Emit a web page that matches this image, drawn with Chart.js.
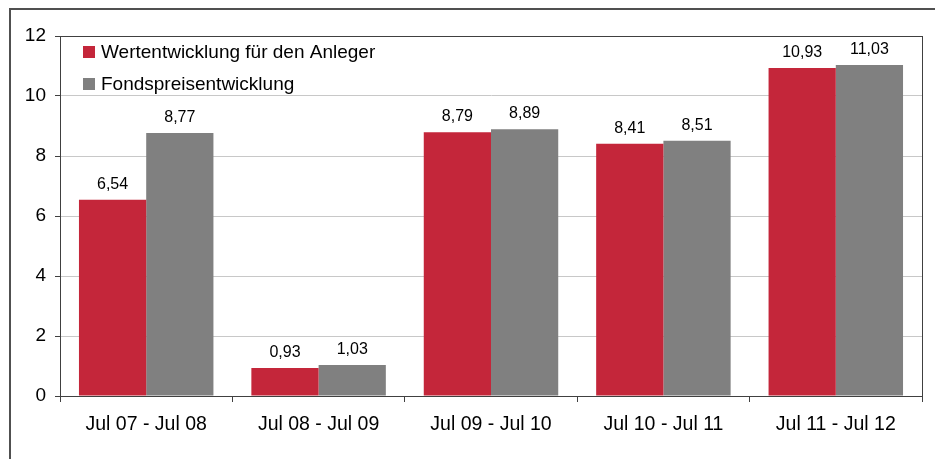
<!DOCTYPE html>
<html>
<head>
<meta charset="utf-8">
<script src="https://cdn.jsdelivr.net/npm/chart.js@4/dist/chart.umd.min.js"></script>
<style>
    html, body { margin: 0; padding: 0; background: #fff; }
    #wrap { width: 935px; height: 459px; position: relative; }
</style>
</head>
<body>
<div id="wrap"><canvas id="perfChart"></canvas></div>
<script>
// Data
const periods = ["Jul 07 - Jul 08", "Jul 08 - Jul 09", "Jul 09 - Jul 10", "Jul 10 - Jul 11", "Jul 11 - Jul 12"];
const investorReturn = [6.54, 0.93, 8.79, 8.41, 10.93];
const fundPriceReturn = [8.77, 1.03, 8.89, 8.51, 11.03];
const yTicks = [0, 2, 4, 6, 8, 10, 12];

const RED = "#c4263a";
const GREY = "#808080";
const FONT = "'Liberation Sans', Arial, sans-serif";

const fmt = v => v.toFixed(2).replace(".", ",");

// Frame, plot box, value labels and in-plot legend
const decorations = {
    id: "decorations",
    afterDatasetsDraw(chart) {
        const c = chart.ctx;
        const a = chart.chartArea;

        // outer frame (only left + top visible in the picture)
        c.save();
        c.strokeStyle = "#505050";
        c.lineWidth = 2;
        c.beginPath();
        c.moveTo(10, 459);
        c.lineTo(10, 9);
        c.lineTo(935, 9);
        c.stroke();

        // plot box
        c.lineWidth = 1;
        c.strokeStyle = "#404040";
        c.strokeRect(Math.round(a.left) + 0.5, Math.round(a.top) + 0.5,
            Math.round(a.right - a.left), Math.round(a.bottom - a.top));

        // value labels above bars
        c.fillStyle = "#000";
        c.font = "16px " + FONT;
        c.textAlign = "center";
        c.textBaseline = "alphabetic";
        chart.data.datasets.forEach((ds, i) => {
            chart.getDatasetMeta(i).data.forEach((bar, j) => {
                c.fillText(fmt(ds.data[j]), bar.x, bar.y - 11);
            });
        });

        // legend inside the plot area
        c.font = "19px " + FONT;
        c.textAlign = "left";
        c.textBaseline = "middle";
        chart.data.datasets.forEach((ds, i) => {
            const y = 52 + i * 32;
            c.fillStyle = ds.backgroundColor;
            c.fillRect(83, y - 6, 12, 12);
            c.fillStyle = "#000";
            c.fillText(ds.label, 101, y + 1);
        });
        c.restore();
    }
};

new Chart(document.getElementById("perfChart"), {
    type: "bar",
    data: {
        labels: periods,
        datasets: [
            { label: "Wertentwicklung für den Anleger", data: investorReturn, backgroundColor: RED },
            { label: "Fondspreisentwicklung", data: fundPriceReturn, backgroundColor: GREY }
        ]
    },
    options: {
        responsive: true,
        maintainAspectRatio: false,
        animation: false,
        layout: { padding: { left: 10, right: 13, top: 36, bottom: 13 } },
        datasets: { bar: { categoryPercentage: 0.78, barPercentage: 1.0 } },
        plugins: { legend: { display: false }, tooltip: { enabled: false } },
        scales: {
            x: {
                grid: { offset: true, drawOnChartArea: false, drawTicks: true, tickLength: 6, color: "#404040" },
                border: { color: "#404040" },
                ticks: { color: "#000", font: { family: FONT, size: 19.5 }, padding: 11 },
                afterFit: s => { s.height = 50; }
            },
            y: {
                min: 0,
                max: 12,
                afterBuildTicks: s => { s.ticks = yTicks.map(v => ({ value: v })); },
                grid: { color: "#c8c8c8", tickLength: 5, tickColor: "#404040" },
                border: { color: "#404040" },
                ticks: { color: "#000", font: { family: FONT, size: 19 }, padding: 9 },
                afterFit: s => { s.width = 50; }
            }
        }
    },
    plugins: [decorations]
});
</script>
</body>
</html>
